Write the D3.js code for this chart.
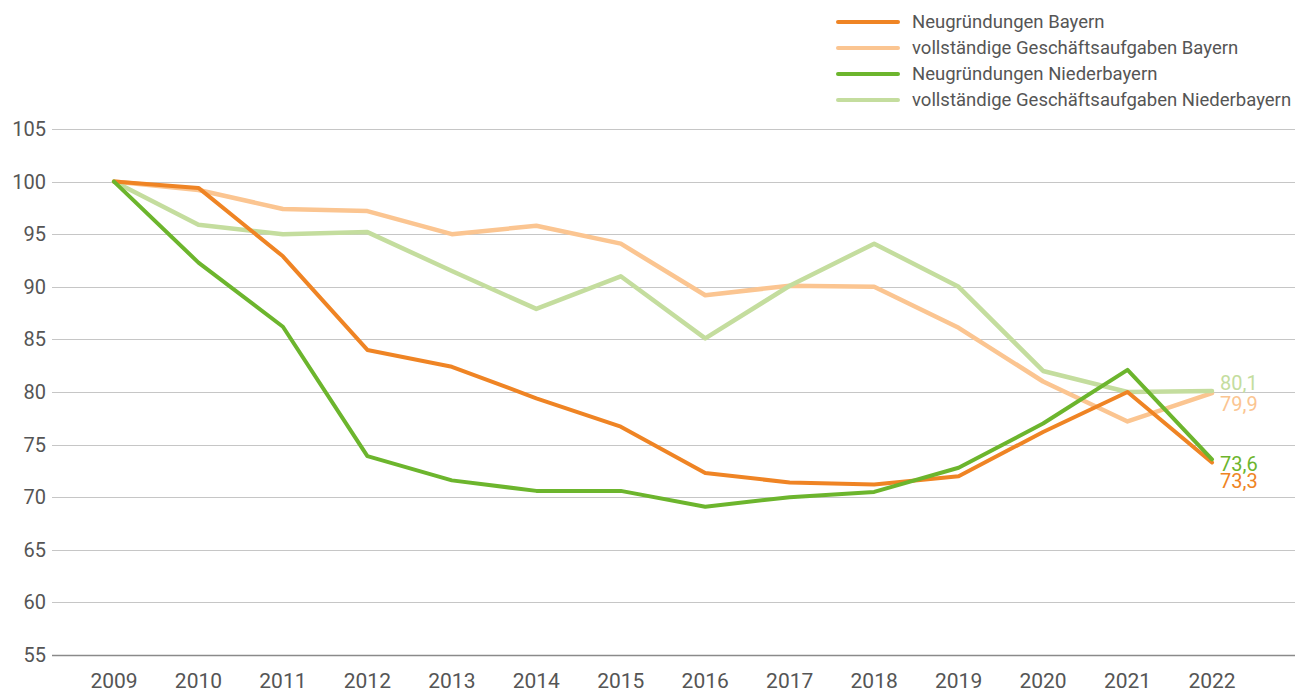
<!DOCTYPE html>
<html>
<head>
<meta charset="utf-8">
<script src="https://cdn.jsdelivr.net/npm/d3@7"></script>
<style>
  html, body { margin: 0; padding: 0; background: #fff; }
  svg { display: block; font-family: Roboto, "Noto Sans", sans-serif; }
</style>
</head>
<body>
<svg id="chart" width="1295" height="693"></svg>
<script>
// Index values (2009 = 100)
const years = [2009, 2010, 2011, 2012, 2013, 2014, 2015, 2016, 2017, 2018, 2019, 2020, 2021, 2022];
const neuBayern   = [100, 99.4, 92.9, 84.0, 82.4, 79.4, 76.7, 72.3, 71.4, 71.2, 72.0, 76.2, 80.0, 73.3];
const aufgBayern  = [100, 99.2, 97.4, 97.2, 95.0, 95.8, 94.1, 89.2, 90.1, 90.0, 86.1, 81.0, 77.2, 79.9];
const neuNiederb  = [100, 92.3, 86.2, 73.9, 71.6, 70.6, 70.6, 69.1, 70.0, 70.5, 72.8, 77.0, 82.1, 73.6];
const aufgNiederb = [100, 95.9, 95.0, 95.2, 91.5, 87.9, 91.0, 85.1, 90.1, 94.1, 90.0, 82.0, 80.0, 80.1];
const yTicks = [55, 60, 65, 70, 75, 80, 85, 90, 95, 100, 105];

const series = [
  { name: "vollständige Geschäftsaufgaben Bayern",       values: aufgBayern,  color: "#fbc591", width: 4.5, labelDy: 18 },
  { name: "vollständige Geschäftsaufgaben Niederbayern", values: aufgNiederb, color: "#c4dd9e", width: 4.5, labelDy: -1 },
  { name: "Neugründungen Bayern",                        values: neuBayern,   color: "#ef8424", width: 4,   labelDy: 26 },
  { name: "Neugründungen Niederbayern",                  values: neuNiederb,  color: "#6cb52d", width: 4,   labelDy: 12 }
];
const legendOrder = [2, 0, 3, 1];

const svg = d3.select("#chart");
const x = d3.scalePoint().domain(years).range([114, 1212]);
const y = d3.scaleLinear().domain([55, 105]).range([655, 129]);

// Gridlines
svg.append("g")
  .selectAll("line")
  .data(yTicks)
  .join("line")
  .attr("x1", 52).attr("x2", 1295)
  .attr("y1", d => Math.round(y(d)) + 0.5).attr("y2", d => Math.round(y(d)) + 0.5)
  .attr("stroke", d => d === 55 ? "#8a8a8a" : "#c6c6c6")
  .attr("stroke-width", d => d === 55 ? 1.6 : 1.2);

// Y axis labels
svg.append("g")
  .selectAll("text")
  .data(yTicks)
  .join("text")
  .attr("x", 46).attr("y", d => y(d))
  .attr("dy", "0.35em")
  .attr("text-anchor", "end")
  .attr("font-size", 20)
  .attr("fill", "#555")
  .text(d => d);

// X axis labels
svg.append("g")
  .selectAll("text")
  .data(years)
  .join("text")
  .attr("x", d => x(d)).attr("y", 688)
  .attr("text-anchor", "middle")
  .attr("font-size", 21)
  .attr("fill", "#555")
  .text(d => d);

// Lines
const line = d3.line()
  .x((d, i) => x(years[i]))
  .y(d => y(d));

svg.append("g")
  .selectAll("path")
  .data(series)
  .join("path")
  .attr("d", d => line(d.values))
  .attr("fill", "none")
  .attr("stroke", d => d.color)
  .attr("stroke-width", d => d.width)
  .attr("stroke-linejoin", "round")
  .attr("stroke-linecap", "round");

// End value labels
const fmt = v => d3.format(".1f")(v).replace(".", ",");
svg.append("g")
  .selectAll("text")
  .data(series)
  .join("text")
  .attr("x", x(2022) + 8)
  .attr("y", d => y(d.values[d.values.length - 1]) + d.labelDy)
  .attr("font-size", 20)
  .attr("fill", d => d.color)
  .text(d => fmt(d.values[d.values.length - 1]));

// Legend
const legend = svg.append("g");
legendOrder.forEach((si, k) => {
  const s = series[si];
  const ly = 22 + k * 26;
  legend.append("line")
    .attr("x1", 838).attr("x2", 898)
    .attr("y1", ly).attr("y2", ly)
    .attr("stroke", s.color).attr("stroke-width", 4)
    .attr("stroke-linecap", "round");
  legend.append("text")
    .attr("x", 912).attr("y", ly)
    .attr("dy", "0.35em")
    .attr("font-size", 18.5)
    .attr("fill", "#555")
    .text(s.name);
});
</script>
</body>
</html>
